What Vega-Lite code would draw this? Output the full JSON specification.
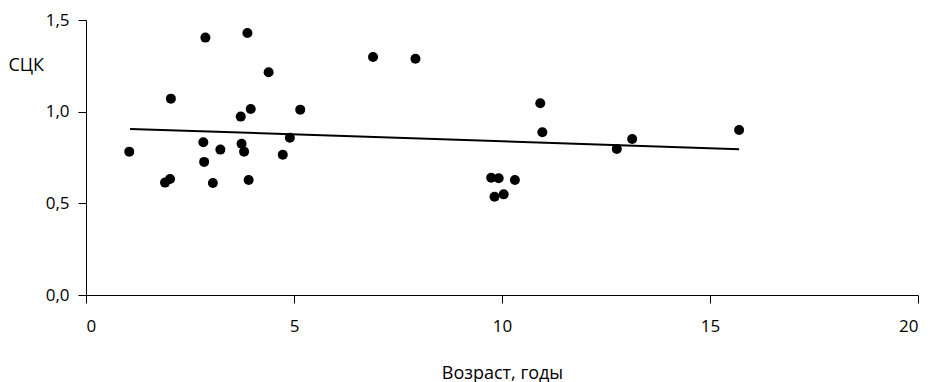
{
  "$schema": "https://vega.github.io/schema/vega-lite/v6.json",
  "width": 832,
  "height": 275,
  "autosize": {"type": "none"},
  "padding": {"left": 86, "top": 20, "right": 11, "bottom": 87},
  "background": "white",
  "config": {
    "view": {"stroke": null},
    "font": "Open Sans",
    "axis": {
      "grid": false,
      "domainColor": "black",
      "tickColor": "black",
      "domainWidth": 1,
      "tickWidth": 1,
      "tickSize": 8,
      "labelColor": "black",
      "titleColor": "black",
      "labelFont": "Open Sans",
      "titleFont": "Open Sans",
      "labelFontSize": 17,
      "titleFontSize": 18,
      "titleFontWeight": "normal"
    }
  },
  "datasets": {
    "points": [
      {"age": 1.04, "sck": 0.782},
      {"age": 2.04, "sck": 1.071},
      {"age": 2.87, "sck": 1.404},
      {"age": 3.88, "sck": 1.429},
      {"age": 4.39, "sck": 1.215},
      {"age": 3.96, "sck": 1.015},
      {"age": 3.72, "sck": 0.973},
      {"age": 5.15, "sck": 1.011},
      {"age": 4.90, "sck": 0.858},
      {"age": 2.82, "sck": 0.833},
      {"age": 3.23, "sck": 0.793},
      {"age": 3.74, "sck": 0.825},
      {"age": 3.80, "sck": 0.782},
      {"age": 4.73, "sck": 0.765},
      {"age": 2.84, "sck": 0.726},
      {"age": 1.90, "sck": 0.613},
      {"age": 2.02, "sck": 0.633},
      {"age": 3.05, "sck": 0.611},
      {"age": 3.91, "sck": 0.627},
      {"age": 6.90, "sck": 1.298},
      {"age": 7.92, "sck": 1.289},
      {"age": 9.74, "sck": 0.640},
      {"age": 9.92, "sck": 0.637},
      {"age": 10.31, "sck": 0.627},
      {"age": 9.82, "sck": 0.536},
      {"age": 10.04, "sck": 0.549},
      {"age": 10.92, "sck": 1.046},
      {"age": 10.97, "sck": 0.888},
      {"age": 12.76, "sck": 0.797},
      {"age": 13.13, "sck": 0.851},
      {"age": 15.70, "sck": 0.900}
    ],
    "trend": [
      {"age": 1.06, "sck": 0.906},
      {"age": 15.70, "sck": 0.795}
    ]
  },
  "layer": [
    {
      "data": {"name": "trend"},
      "mark": {"type": "line", "color": "black", "strokeWidth": 2},
      "encoding": {
        "x": {"field": "age", "type": "quantitative"},
        "y": {"field": "sck", "type": "quantitative"}
      }
    },
    {
      "data": {"name": "points"},
      "mark": {"type": "point", "filled": true, "shape": "circle", "color": "black", "opacity": 1, "size": 100},
      "encoding": {
        "x": {
          "field": "age",
          "type": "quantitative",
          "scale": {"domain": [0, 20], "nice": false, "zero": false},
          "axis": {
            "values": [0, 5, 10, 15, 20],
            "title": "Возраст, годы",
            "labelPadding": 15,
            "titleY": 78,
            "titleBaseline": "middle"
          }
        },
        "y": {
          "field": "sck",
          "type": "quantitative",
          "scale": {"domain": [0, 1.5], "nice": false},
          "axis": {
            "values": [0, 0.5, 1, 1.5],
            "labelExpr": "replace(format(datum.value, '.1f'), '.', ',')",
            "labelPadding": 9,
            "title": "СЦК",
            "titleAngle": 0,
            "titleAlign": "left",
            "titleBaseline": "middle",
            "titleX": -78,
            "titleY": 45
          }
        }
      }
    }
  ]
}
